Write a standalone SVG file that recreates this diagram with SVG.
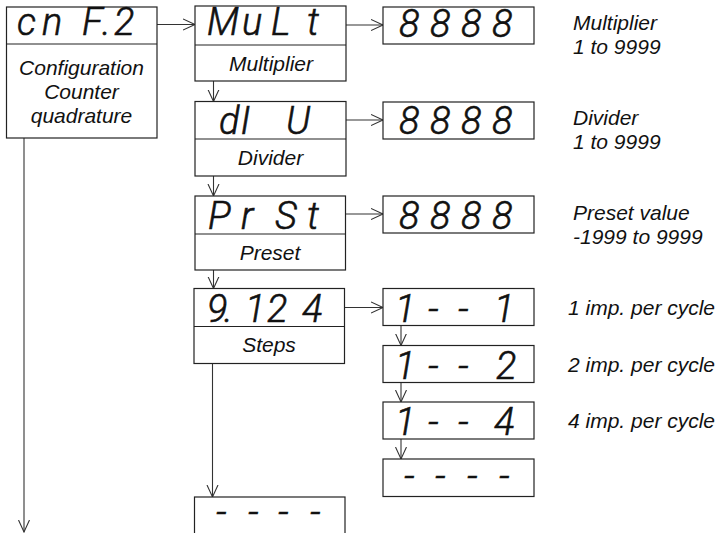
<svg xmlns="http://www.w3.org/2000/svg" width="726" height="533" viewBox="0 0 726 533">
<style>
.box{fill:#fff;stroke:#222;stroke-width:1.2}
.div{stroke:#222;stroke-width:1.2}
.seg{font-family:Roboto,"Liberation Sans",sans-serif;font-style:italic;font-weight:300;font-size:38px;fill:#111;stroke:#111;stroke-width:0.6}
.lbl{font-family:"Liberation Sans",Arial,sans-serif;font-style:italic;font-size:21px;fill:#111;text-anchor:middle}
.note{font-family:"Liberation Sans",Arial,sans-serif;font-style:italic;font-size:21px;fill:#111}
.con{stroke:#333;stroke-width:1.1;fill:none;marker-end:url(#ah)}
</style>
<defs>
<marker id="ah" markerUnits="userSpaceOnUse" markerWidth="14" markerHeight="14" refX="12" refY="6" orient="auto" viewBox="0 0 14 12">
<path d="M0,0.5 L12,6 L0,11.5" fill="none" stroke="#333" stroke-width="1.1"/>
</marker>
</defs>
<rect width="726" height="533" fill="#fff"/>
<g id="connectors">
<line class="con" x1="157" y1="24.5" x2="195" y2="24.5"/>
<line class="con" x1="346" y1="25" x2="383" y2="25"/>
<line class="con" x1="213.5" y1="81" x2="213.5" y2="101.5"/>
<line class="con" x1="346" y1="120" x2="383" y2="120"/>
<line class="con" x1="213.5" y1="176" x2="213.5" y2="196"/>
<line class="con" x1="346" y1="214" x2="383" y2="214"/>
<line class="con" x1="213.5" y1="270" x2="213.5" y2="288.5"/>
<line class="con" x1="345" y1="307.5" x2="383" y2="307.5"/>
<line class="con" x1="212.5" y1="363.5" x2="212.5" y2="497"/>
<line class="con" x1="401" y1="326" x2="401" y2="345.5"/>
<line class="con" x1="401" y1="382.5" x2="401" y2="402"/>
<line class="con" x1="401" y1="439" x2="401" y2="459"/>
<line class="con" x1="24" y1="138" x2="24" y2="532"/>
</g>
<g id="cnf2">
<rect class="box" x="6.5" y="7" width="150.5" height="131"/>
<line class="div" x1="6.5" y1="44" x2="157" y2="44"/>
<text class="seg" x="17 42 82 102 114" y="35">cnF.2</text>
<text class="lbl" x="81.5" y="75">Configuration</text>
<text class="lbl" x="81.5" y="99">Counter</text>
<text class="lbl" x="81.5" y="123">quadrature</text>
</g>
<g id="mult">
<rect class="box" x="195" y="6" width="151" height="75"/>
<line class="div" x1="195" y1="45" x2="346" y2="45"/>
<text class="seg" x="207 242 271 307" y="35">MuLt</text>
<text class="lbl" x="271" y="71">Multiplier</text>
</g>
<g id="mult-val">
<rect class="box" x="383" y="7" width="151" height="37"/>
<text class="seg" x="399 430 461 492" y="37">8888</text>
</g>
<g id="div">
<rect class="box" x="195" y="101.5" width="151" height="74.5"/>
<line class="div" x1="195" y1="139" x2="346" y2="139"/>
<text class="seg" x="219 240.5 262 286" y="134">dI U</text>
<text class="lbl" x="270.5" y="165">Divider</text>
</g>
<g id="div-val">
<rect class="box" x="383" y="102" width="151" height="37"/>
<text class="seg" x="399 430 461 492" y="134">8888</text>
</g>
<g id="prst">
<rect class="box" x="195" y="196" width="150.5" height="74"/>
<line class="div" x1="195" y1="234" x2="345.5" y2="234"/>
<text class="seg" x="208 241 275 307" y="229">PrSt</text>
<text class="lbl" x="270" y="260">Preset</text>
</g>
<g id="prst-val">
<rect class="box" x="383" y="196" width="151" height="37"/>
<text class="seg" x="399 430 461 492" y="229">8888</text>
</g>
<g id="steps">
<rect class="box" x="194" y="288.5" width="150.5" height="75"/>
<line class="div" x1="194" y1="326.5" x2="344.5" y2="326.5"/>
<text class="seg" x="207 224 245 267 302" y="322">9.124</text>
<text class="lbl" x="269" y="352">Steps</text>
</g>
<g id="s1">
<rect class="box" x="383" y="288.5" width="151" height="37"/>
<text class="seg" x="395 428 458 494" y="322">1--1</text>
</g>
<g id="s2">
<rect class="box" x="383" y="345.5" width="151" height="37"/>
<text class="seg" x="395 428 458 496" y="379">1--2</text>
</g>
<g id="s4">
<rect class="box" x="383" y="402" width="151" height="37"/>
<text class="seg" x="395 428 458 494" y="435">1--4</text>
</g>
<g id="s-off">
<rect class="box" x="383" y="459" width="151" height="37.5"/>
<text class="seg" x="404 435 467 499" y="489">----</text>
</g>
<g id="steps-off">
<rect class="box" x="194.5" y="497" width="150.5" height="60"/>
<text class="seg" x="216 248 278 310" y="525">----</text>
</g>
<g id="notes">
<text class="note" x="573" y="30">Multiplier</text>
<text class="note" x="573" y="54">1 to 9999</text>
<text class="note" x="573" y="125">Divider</text>
<text class="note" x="573" y="149">1 to 9999</text>
<text class="note" x="573" y="220">Preset value</text>
<text class="note" x="573" y="244">-1999 to 9999</text>
<text class="note" x="568" y="315">1 imp. per cycle</text>
<text class="note" x="568" y="372">2 imp. per cycle</text>
<text class="note" x="568" y="428">4 imp. per cycle</text>
</g>
</svg>
